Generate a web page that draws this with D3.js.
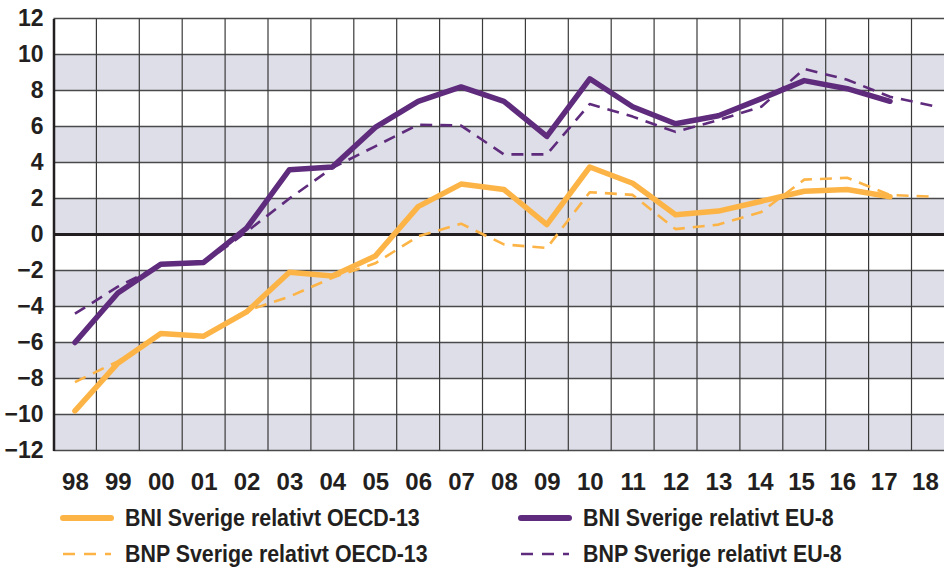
<!DOCTYPE html>
<html>
<head>
<meta charset="utf-8">
<script src="https://cdn.jsdelivr.net/npm/d3@7"></script>
<style>
  body { margin: 0; background: #fff; }
  svg { display: block; }
</style>
</head>
<body>
<div id="chart"></div>
<script>
// years on the x axis
const years = ["98","99","00","01","02","03","04","05","06","07","08","09","10","11","12","13","14","15","16","17","18"];
const yTicks = [-12,-10,-8,-6,-4,-2,0,2,4,6,8,10,12];

// series (null = no value)
const bniOecd = [-9.8,-7.15,-5.5,-5.65,-4.3,-2.1,-2.3,-1.2,1.55,2.8,2.5,0.55,3.75,2.85,1.1,1.3,1.85,2.4,2.5,2.1,null];
const bnpOecd = [-8.2,-7.05,-5.55,-5.65,-4.25,-3.45,-2.4,-1.6,-0.1,0.6,-0.55,-0.75,2.35,2.2,0.3,0.55,1.25,3.05,3.15,2.2,2.1];
const bniEu = [-6.0,-3.25,-1.65,-1.55,0.35,3.6,3.75,5.95,7.4,8.2,7.4,5.45,8.65,7.1,6.15,6.6,7.55,8.55,8.1,7.4,null];
const bnpEu = [-4.4,-2.9,-1.7,-1.6,0.15,2.0,3.7,4.9,6.1,6.05,4.45,4.45,7.25,6.55,5.7,6.35,7.1,9.2,8.6,7.65,7.15];

const series = [
  { name: "BNI Sverige relativt OECD-13", values: bniOecd, color: "#fdb447", dashed: false },
  { name: "BNP Sverige relativt OECD-13", values: bnpOecd, color: "#fdb447", dashed: true },
  { name: "BNI Sverige relativt EU-8", values: bniEu, color: "#5f2b7c", dashed: false },
  { name: "BNP Sverige relativt EU-8", values: bnpEu, color: "#5f2b7c", dashed: true }
];

const W = 944, H = 568;
const plotLeft = 53.5, plotTop = 18.5, plotBottom = 450.5;
const step = 42.9;
const plotRight = plotLeft + step * years.length;

const svg = d3.select("#chart").append("svg")
  .attr("width", W)
  .attr("height", H);

const xScale = d3.scalePoint()
  .domain(years)
  .range([plotLeft, plotRight])
  .padding(0.5);

const yScale = d3.scaleLinear()
  .domain([-12, 12])
  .range([plotBottom, plotTop]);

// shaded bands
const bands = [[8,10],[4,6],[0,2],[-4,-2],[-8,-6],[-12,-10]];
svg.append("g").selectAll("rect")
  .data(bands)
  .join("rect")
  .attr("x", plotLeft)
  .attr("y", d => yScale(d[1]))
  .attr("width", plotRight - plotLeft)
  .attr("height", d => yScale(d[0]) - yScale(d[1]))
  .attr("fill", "#dedee8");

// horizontal grid
svg.append("g").selectAll("line")
  .data(yTicks.filter(d => d !== 0))
  .join("line")
  .attr("x1", plotLeft).attr("x2", plotRight)
  .attr("y1", d => yScale(d)).attr("y2", d => yScale(d))
  .attr("stroke", "#4a4a4a")
  .attr("stroke-width", 1.3);

// vertical grid at column edges
const edges = d3.range(years.length + 1).map(i => plotLeft + i * step);
svg.append("g").selectAll("line")
  .data(edges.slice(1))
  .join("line")
  .attr("x1", d => d).attr("x2", d => d)
  .attr("y1", plotTop).attr("y2", plotBottom)
  .attr("stroke", "#3a3a3a")
  .attr("stroke-width", 1.2);

// zero line
svg.append("line")
  .attr("x1", plotLeft).attr("x2", plotRight)
  .attr("y1", yScale(0)).attr("y2", yScale(0))
  .attr("stroke", "#231f20")
  .attr("stroke-width", 3);

// left axis
const yAxis = svg.append("g")
  .attr("transform", `translate(${plotLeft},0)`)
  .call(d3.axisLeft(yScale).tickValues(yTicks).tickSize(0).tickPadding(10));
yAxis.select(".domain").attr("stroke", "#231f20").attr("stroke-width", 2.5);
yAxis.selectAll("text")
  .attr("font-family", "Liberation Sans, Arial, sans-serif")
  .attr("font-weight", "bold")
  .attr("font-size", 23)
  .attr("fill", "#231f20");

// bottom labels
const xAxis = svg.append("g")
  .attr("transform", `translate(0,${plotBottom})`)
  .call(d3.axisBottom(xScale).tickSize(0).tickPadding(22));
xAxis.select(".domain").remove();
xAxis.selectAll("text")
  .attr("font-family", "Liberation Sans, Arial, sans-serif")
  .attr("font-weight", "bold")
  .attr("font-size", 24)
  .attr("fill", "#231f20");
// labels drift a little left towards the right edge
xAxis.selectAll("text")
  .attr("dx", (d, i) => -Math.max(0, i - 15) * 1.6);

// lines
const line = d3.line()
  .defined(d => d[1] !== null)
  .x(d => xScale(d[0]))
  .y(d => yScale(d[1]));

// draw dashed first, then solid
const order = [series[1], series[3], series[0], series[2]];
svg.append("g").selectAll("path")
  .data(order)
  .join("path")
  .attr("d", s => line(years.map((y, i) => [y, s.values[i]])))
  .attr("fill", "none")
  .attr("stroke", s => s.color)
  .attr("stroke-width", s => s.dashed ? 2.6 : 5.5)
  .attr("stroke-dasharray", s => s.dashed ? "12,8" : null)
  .attr("stroke-linejoin", "round")
  .attr("stroke-linecap", s => s.dashed ? "butt" : "round");

// legend
const legendPos = [[63, 518], [63, 554], [521, 518], [521, 554]];
const legend = svg.append("g").selectAll("g")
  .data(series)
  .join("g")
  .attr("transform", (d, i) => `translate(${legendPos[i][0]},${legendPos[i][1]})`);

legend.append("line")
  .attr("x1", 0).attr("x2", 48)
  .attr("y1", 0).attr("y2", 0)
  .attr("stroke", d => d.color)
  .attr("stroke-width", d => d.dashed ? 2.6 : 6)
  .attr("stroke-dasharray", d => d.dashed ? "12,9" : null)
  .attr("stroke-linecap", d => d.dashed ? "butt" : "round");

legend.append("text")
  .attr("transform", "translate(62,8) scale(0.93,1.06)")
  .attr("font-family", "Liberation Sans, Arial, sans-serif")
  .attr("font-weight", "bold")
  .attr("font-size", 23)
  .attr("fill", "#231f20")
  .text(d => d.name);
</script>
</body>
</html>
